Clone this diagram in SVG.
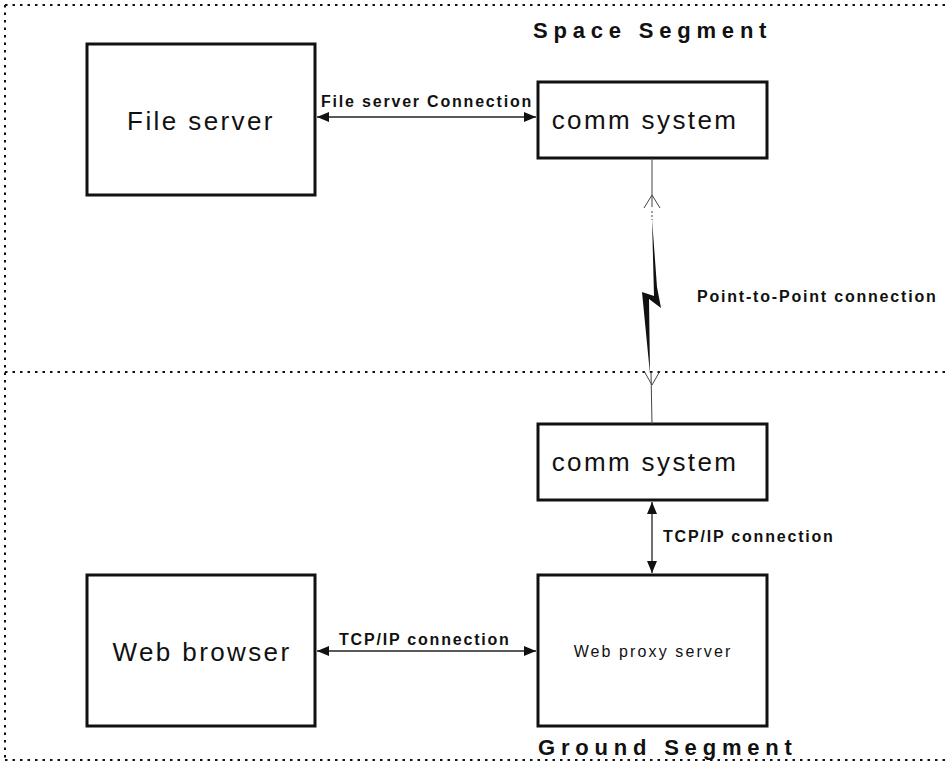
<svg xmlns="http://www.w3.org/2000/svg" width="946" height="764" viewBox="0 0 946 764">
  <style>
    .box { fill: #fff; stroke: #111; stroke-width: 3; }
    .seg { fill: none; stroke: #111; stroke-width: 2; stroke-dasharray: 2.5 5; }
    .wire { fill: none; stroke: #222; stroke-width: 1.3; }
    .thin { fill: none; stroke: #444; stroke-width: 1; }
    .big { font-family: "Liberation Sans", Arial, sans-serif; font-size: 26px; letter-spacing: 2.4px; fill: #111; text-anchor: middle; }
    .lbl { font-family: "Liberation Sans", Arial, sans-serif; font-size: 16px; font-weight: bold; letter-spacing: 1.8px; fill: #111; }
    .title { font-family: "Liberation Sans", Arial, sans-serif; font-size: 22px; font-weight: bold; letter-spacing: 5.8px; fill: #111; }
  </style>
  <defs>
    <marker id="solid" viewBox="0 0 12 10" refX="12" refY="5" markerWidth="12" markerHeight="10" markerUnits="userSpaceOnUse" orient="auto-start-reverse">
      <path d="M0,0 L12,5 L0,10 z" fill="#111"/>
    </marker>
  </defs>

  <rect width="946" height="764" fill="#fff"/>

  <!-- segment boundaries -->
  <g id="segments">
    <line class="seg" x1="5" y1="5" x2="946" y2="5"/>
    <line class="seg" x1="5" y1="5" x2="5" y2="760"/>
    <line class="seg" x1="5" y1="372" x2="946" y2="372"/>
    <line class="seg" x1="5" y1="760" x2="946" y2="760"/>
    <text class="title" x="533" y="38">Space Segment</text>
    <text class="title" x="538" y="755">Ground Segment</text>
  </g>

  <g id="file-server">
    <rect class="box" x="87" y="44" width="228" height="151"/>
    <text class="big" x="201" y="130">File server</text>
  </g>

  <g id="comm-space">
    <rect class="box" x="538" y="82" width="229" height="76"/>
    <text class="big" x="645" y="129">comm system</text>
  </g>

  <g id="comm-ground">
    <rect class="box" x="538" y="424" width="229" height="76"/>
    <text class="big" x="645" y="471">comm system</text>
  </g>

  <g id="web-browser">
    <rect class="box" x="87" y="575" width="228" height="151"/>
    <text class="big" x="202" y="661">Web browser</text>
  </g>

  <g id="web-proxy">
    <rect class="box" x="538" y="575" width="229" height="151"/>
    <text class="big" x="653" y="657" style="font-size:16px;letter-spacing:2.1px">Web proxy server</text>
  </g>

  <g id="connectors">
    <!-- file server link -->
    <line class="wire" x1="317" y1="117" x2="536" y2="117" marker-start="url(#solid)" marker-end="url(#solid)"/>
    <text class="lbl" x="321" y="107">File server Connection</text>

    <!-- radio link between the two comm systems -->
    <line class="thin" x1="652" y1="158" x2="652" y2="207"/>
    <path class="thin" d="M644,208 L652,195 L660,208"/>
    <line class="thin" x1="652" y1="211" x2="652" y2="220" stroke-dasharray="2 2"/>
    <polygon points="652,219 657,287 661,308 649,299 650,374 642,292 654,296" fill="#111"/>
    <line class="thin" x1="651" y1="372" x2="652" y2="424"/>
    <path class="thin" d="M644,371 L652,385 L660,371"/>
    <text class="lbl" x="697" y="302">Point-to-Point connection</text>

    <!-- ground side TCP/IP links -->
    <line class="wire" x1="652" y1="502" x2="652" y2="573" marker-start="url(#solid)" marker-end="url(#solid)"/>
    <text class="lbl" x="663" y="542">TCP/IP connection</text>
    <line class="wire" x1="317" y1="651" x2="536" y2="651" marker-start="url(#solid)" marker-end="url(#solid)"/>
    <text class="lbl" x="339" y="645">TCP/IP connection</text>
  </g>
</svg>
